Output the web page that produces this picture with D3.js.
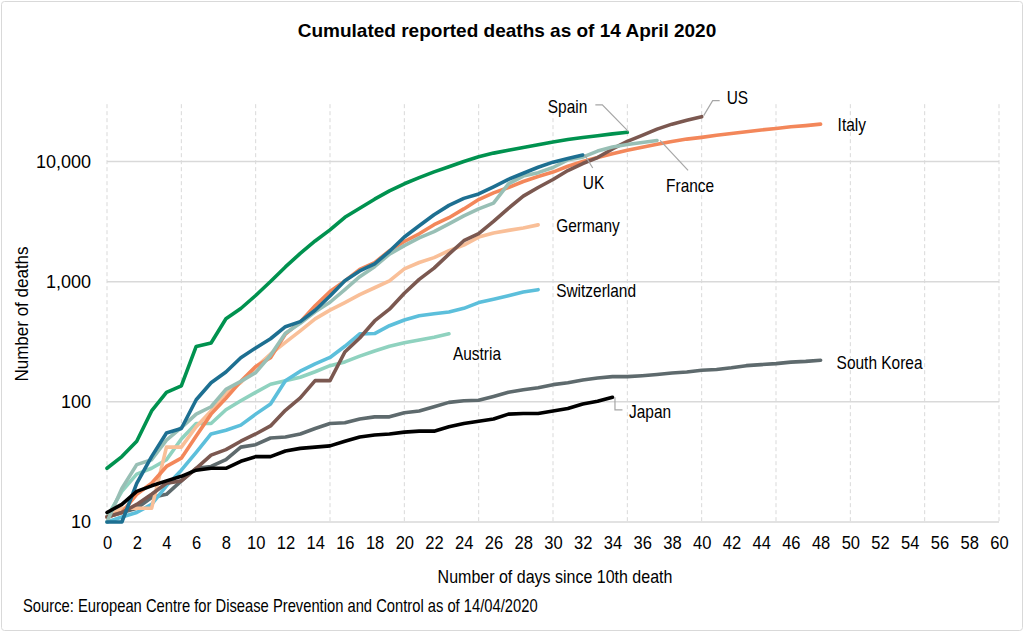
<!DOCTYPE html>
<html lang="en">
<head>
    <meta charset="UTF-8">
    <title>Cumulated reported deaths</title>
    <script src="https://d3js.org/d3.v7.min.js"></script>
    <style>
        body { margin: 0; background: #fff; }
        svg text { font-family: "Liberation Sans", Arial, sans-serif; fill: #000; }
        .grid-h { stroke: #d9d9d9; stroke-width: 1.5px; }
        .grid-v { stroke: #d9d9d9; stroke-width: 1px; stroke-dasharray: 4 3; }
        .series { fill: none; stroke-width: 3.6px; stroke-linejoin: round; stroke-linecap: round; }
        .leader { fill: none; stroke: #a6a6a6; stroke-width: 1.2px; }
    </style>
</head>
<body>
<div id="chart"></div>
<script>
    // deaths per day since 10th death (index = day)
    const spain = [28, 35, 47, 84, 120, 136, 289, 309, 491, 598, 767, 1002, 1326, 1720, 2182, 2696, 3434, 4089, 4858, 5690, 6528, 7340, 8189, 9053, 10003, 10935, 11744, 12418, 13055, 13798, 14555, 15238, 15843, 16353, 16972, 17489];
    const italy = [11, 12, 17, 21, 29, 34, 52, 79, 107, 148, 197, 233, 366, 463, 631, 827, 1016, 1266, 1441, 1809, 2158, 2503, 2978, 3405, 4032, 4825, 5476, 6077, 6820, 7503, 8165, 9134, 10023, 10779, 11591, 12428, 13155, 13915, 14681, 15362, 15887, 16523, 17127, 17669, 18279, 18849, 19468, 19899, 20465];
    const uk = [10, 10, 21, 35, 55, 60, 104, 144, 177, 233, 281, 335, 422, 465, 578, 759, 1019, 1228, 1408, 1789, 2352, 2921, 3605, 4313, 4934, 5373, 6159, 7097, 7978, 8958, 9875, 10612, 11329];
    const france = [10, 19, 30, 33, 48, 61, 79, 91, 127, 148, 175, 244, 372, 450, 562, 674, 860, 1100, 1331, 1696, 1995, 2314, 2606, 3024, 3523, 4032, 4503, 6507, 7560, 8078, 8911, 10328, 10869, 12210, 13197, 13832, 14393, 14967];
    const us = [11, 12, 14, 17, 21, 22, 28, 36, 40, 47, 54, 63, 85, 108, 150, 150, 260, 340, 471, 590, 801, 1046, 1296, 1695, 2191, 2509, 3170, 4076, 5151, 6075, 7087, 8407, 9619, 10783, 12722, 14695, 16478, 18586, 20463, 22020, 23604];
    const germany = [11, 13, 13, 13, 42, 42, 62, 84, 118, 145, 194, 250, 312, 390, 490, 580, 670, 780, 890, 1017, 1277, 1444, 1584, 1810, 2016, 2349, 2544, 2673, 2799, 2969];
    const switzerland = [10, 11, 12, 14, 20, 27, 38, 54, 58, 64, 79, 96, 150, 180, 207, 234, 290, 368, 370, 430, 480, 520, 540, 560, 600, 670, 715, 765, 820, 858];
    const austria = [11, 18, 25, 28, 33, 49, 66, 66, 86, 102, 120, 140, 150, 160, 178, 200, 215, 240, 265, 290, 310, 327, 345, 368];
    const korea = [11, 12, 13, 16, 17, 22, 28, 29, 33, 42, 44, 50, 51, 54, 60, 66, 67, 72, 75, 75, 81, 84, 91, 99, 102, 103, 111, 120, 126, 131, 139, 144, 152, 158, 162, 162, 165, 169, 174, 177, 183, 186, 192, 200, 204, 208, 214, 217, 222];
    const japan = [12, 14, 18, 20, 22, 24, 27, 28, 28, 32, 35, 35, 39, 41, 42, 43, 47, 51, 53, 54, 56, 57, 57, 62, 66, 69, 72, 79, 80, 80, 84, 88, 96, 101, 109];

    const dayTicks = d3.range(0, 61, 2);
    const gridDays = d3.range(0, 61, 5);
    const yTicks = [10, 100, 1000, 10000];

    // drawing order: first drawn sits at the bottom
    const series = [
        { name: 'South Korea', values: korea, color: '#5e6a6d', label: { dx: 16, dy: 2 } },
        { name: 'Austria', values: austria, color: '#8fd2bf', label: { dx: 4, dy: 20 } },
        { name: 'Switzerland', values: switzerland, color: '#5cbfdb', label: { dx: 18, dy: 1 } },
        { name: 'Germany', values: germany, color: '#f9bf98', label: { dx: 18, dy: 1 } },
        { name: 'Italy', values: italy, color: '#f3875a', label: { dx: 17, dy: 1 } },
        { name: 'US', values: us, color: '#7b5850', label: { dx: 25, dy: -19 }, leader: [[2, -1], [11, -16], [18, -16]] },
        { name: 'France', values: france, color: '#98bfb5', label: { dx: 9, dy: 45 }, leader: [[3, 0], [31, 30]] },
        { name: 'UK', values: uk, color: '#1d6f91', label: { dx: 0, dy: 28 }, leader: [[2, 0], [10, 13]] },
        { name: 'Spain', values: spain, color: '#00924f', label: { dx: -40, dy: -25.5, anchor: 'end' }, leader: [[1, -1], [-25, -27.5], [-32, -27.5]] },
        { name: 'Japan', values: japan, color: '#000000', label: { dx: 16.5, dy: 14.6 }, leader: [[2.5, 0], [2.5, 12.6], [10, 12.6]] }
    ];

    const W = 1024, H = 633;
    const NARROW = 0.86;

    const svg = d3.select('#chart').append('svg')
        .attr('width', W)
        .attr('height', H);

    // condensed text: place at (px, py), squeeze horizontally
    function addText(px, py, str, size, opts = {}) {
        return svg.append('text')
            .attr('transform', `translate(${px}, ${py}) ${opts.rotate ? 'rotate(' + opts.rotate + ')' : ''} scale(${opts.sx || NARROW}, 1)`)
            .attr('dy', '0.35em')
            .attr('text-anchor', opts.anchor || 'start')
            .attr('font-size', size)
            .attr('font-weight', opts.weight || 'normal')
            .text(str);
    }

    svg.append('rect')
        .attr('x', 1.5).attr('y', 1.5)
        .attr('width', W - 3).attr('height', H - 4)
        .attr('rx', 3)
        .attr('fill', '#fff')
        .attr('stroke', '#d9d9d9');

    const x = d3.scaleLinear().domain([0, 60]).range([107, 999]);
    const y = d3.scaleLog().domain([10, 10000]).range([522, 161.5]);
    const plotTop = y(30000);

    // vertical dashed grid
    svg.append('g').selectAll('line')
        .data(gridDays)
        .join('line')
        .attr('class', 'grid-v')
        .attr('x1', d => x(d)).attr('x2', d => x(d))
        .attr('y1', plotTop).attr('y2', y(10));

    // horizontal grid at each decade
    svg.append('g').selectAll('line')
        .data(yTicks)
        .join('line')
        .attr('class', 'grid-h')
        .attr('x1', x(0)).attr('x2', x(60))
        .attr('y1', d => y(d)).attr('y2', d => y(d));

    // axes (labels only, lines come from the grid)
    const xAxis = svg.append('g')
        .attr('transform', `translate(0, ${y(10)})`)
        .call(d3.axisBottom(x).tickValues(dayTicks).tickSize(0).tickPadding(14));
    xAxis.select('.domain').remove();
    xAxis.selectAll('text').attr('font-size', 18).attr('fill', '#000')
        .attr('transform', 'scale(0.92, 1)');

    const yAxis = svg.append('g')
        .attr('transform', `translate(${x(0)}, 0)`)
        .call(d3.axisLeft(y).tickValues(yTicks).tickFormat(d3.format(',')).tickSize(0).tickPadding(16));
    yAxis.select('.domain').remove();
    yAxis.selectAll('text').attr('font-size', 18).attr('fill', '#000');

    const line = d3.line()
        .x((d, i) => x(i))
        .y(d => y(d));

    svg.append('g').selectAll('path')
        .data(series)
        .join('path')
        .attr('class', 'series')
        .attr('stroke', d => d.color)
        .attr('d', d => line(d.values));

    // end labels with optional leader lines
    series.forEach(s => {
        const n = s.values.length - 1;
        const ex = x(n), ey = y(s.values[n]);
        if (s.leader) {
            svg.append('polyline')
                .attr('class', 'leader')
                .attr('points', s.leader.map(p => `${ex + p[0]},${ey + p[1]}`).join(' '));
        }
        addText(ex + s.label.dx, ey + s.label.dy, s.name, 18, { anchor: s.label.anchor });
    });

    addText(507, 30, 'Cumulated reported deaths as of 14 April 2020', 19, { anchor: 'middle', weight: 'bold', sx: 1 });
    addText(22, 314, 'Number of deaths', 18, { anchor: 'middle', rotate: -90, sx: 0.945 });
    addText(555, 577, 'Number of days since 10th death', 18, { anchor: 'middle', sx: 0.89 });
    addText(23, 606, 'Source: European Centre for Disease Prevention and Control as of 14/04/2020', 18, { sx: 0.82 });
</script>
</body>
</html>
